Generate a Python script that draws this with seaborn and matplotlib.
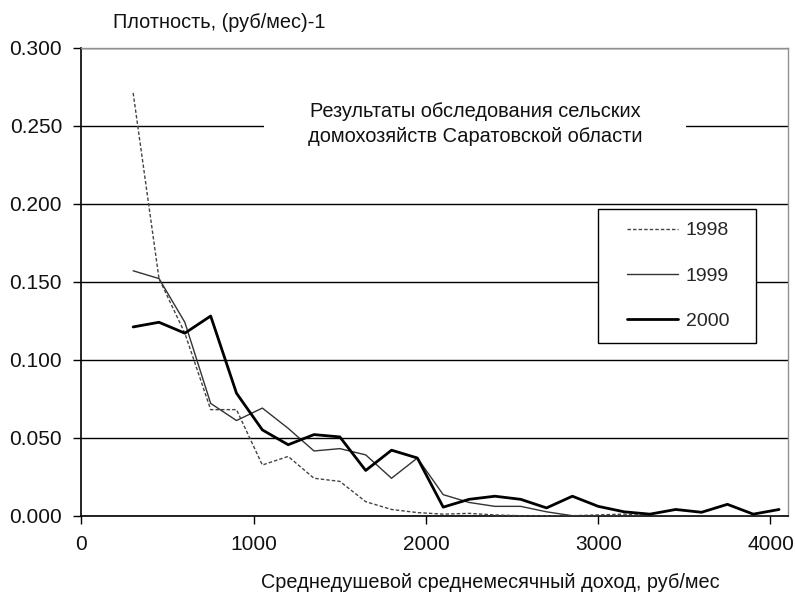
import numpy as np
import pandas as pd
import matplotlib
matplotlib.use("Agg")
import matplotlib.pyplot as plt
from matplotlib.patches import Rectangle
import seaborn as sns

# ── data ───────────────────────────────────────────────────────────────────────
income = [300, 450, 600, 750, 900, 1050, 1200, 1350, 1500, 1650, 1800, 1950, 2100,
          2250, 2400, 2550, 2700, 2850, 3000, 3150, 3300, 3450, 3600, 3750, 3900, 4050]

dens_1998 = [0.271, 0.152, 0.117, 0.068, 0.068, 0.0325, 0.038, 0.024, 0.022, 0.009,
             0.004, 0.002, 0.001, 0.0015, 0.0005, 0.0, 0.0, 0.0, 0.0005, 0.001,
             0.0, 0.0, 0.0, 0.0, 0.0, 0.0]
dens_1999 = [0.157, 0.152, 0.124, 0.072, 0.061, 0.069, 0.056, 0.0415, 0.043, 0.039,
             0.024, 0.037, 0.0135, 0.0085, 0.006, 0.006, 0.0025, 0.0, 0.0, 0.0,
             0.0, 0.0, 0.0, 0.0, 0.0, 0.0]
dens_2000 = [0.121, 0.124, 0.117, 0.128, 0.0785, 0.055, 0.0455, 0.052, 0.0505, 0.029,
             0.042, 0.037, 0.0055, 0.0105, 0.0125, 0.0105, 0.005, 0.0125, 0.006, 0.0025,
             0.001, 0.004, 0.0022, 0.0073, 0.001, 0.004]

years = ["1998", "1999", "2000"]
y_ticks = [0.0, 0.05, 0.10, 0.15, 0.20, 0.25, 0.30]
x_ticks = [0, 1000, 2000, 3000, 4000]

df = pd.DataFrame({
    "income": income * 3,
    "density": dens_1998 + dens_1999 + dens_2000,
    "year": [y for y in years for _ in income],
})

# ── style ──────────────────────────────────────────────────────────────────────
sns.set_theme(style="white")
plt.rcParams["font.family"] = ["Liberation Sans", "DejaVu Sans"]

fig = plt.figure(figsize=(7.95, 5.94), dpi=100)
ax = fig.add_axes([0.1025, 0.1318, 0.8883, 0.7879])

palette = {"1998": "#444444", "1999": "#333333", "2000": "#000000"}
sizes = {"1998": 1.0, "1999": 1.0, "2000": 2.0}
dashes = {"1998": (2.5, 1.5), "1999": "", "2000": ""}

sns.lineplot(data=df, x="income", y="density", hue="year", size="year", style="year",
             palette=palette, sizes=sizes, dashes=dashes, hue_order=years,
             legend=False, ax=ax, zorder=3)

ax.set_xlim(0, 4100)
ax.set_ylim(0, 0.30)
ax.set_xticks(x_ticks)
ax.set_yticks(y_ticks)
ax.set_yticklabels([f"{v:.3f}" for v in y_ticks])
ax.set_xlabel("")
ax.set_ylabel("")
ax.yaxis.grid(True, color="black", linewidth=1.0)
ax.set_axisbelow(True)

for s in ["left", "bottom"]:
    ax.spines[s].set_color("black")
    ax.spines[s].set_linewidth(1.2)
for s in ["top", "right"]:
    ax.spines[s].set_color("#909090")
    ax.spines[s].set_linewidth(1.0)

ax.tick_params(axis="both", which="major", direction="out", length=6, width=1.0,
               color="black", labelsize=15, labelcolor="#111111",
               left=True, bottom=True)
ax.tick_params(axis="y", pad=8)
ax.tick_params(axis="x", pad=8)

# annotation covering part of the 0.250 grid line
ax.text(0.557, 0.837, "Результаты обследования сельских\nдомохозяйств Саратовской области",
        transform=ax.transAxes, ha="center", va="center", fontsize=14.4,
        linespacing=1.4, color="#111111", zorder=4,
        bbox=dict(boxstyle="square,pad=2.2", facecolor="white", edgecolor="none"))

# legend: white box drawn separately so the side padding can differ from the top
ax.add_patch(Rectangle((0.731, 0.369), 0.224, 0.286, transform=ax.transAxes,
                       facecolor="white", edgecolor="black", linewidth=1.0, zorder=4.5))
handles = ax.get_lines()[:3]
leg = ax.legend(handles, years, loc="upper left", bbox_to_anchor=(0.773, 0.628),
                borderaxespad=0, frameon=False, fontsize=14,
                handlelength=2.6, handletextpad=0.4, labelspacing=1.42,
                borderpad=0)
leg.set_zorder(5)

fig.text(113 / 795, 1 - 22 / 594, "Плотность, (руб/мес)-1", ha="left", va="center",
         fontsize=14.3, color="#111111")
fig.text(490 / 795, 1 - 582 / 594, "Среднедушевой среднемесячный доход, руб/мес",
         ha="center", va="center", fontsize=14.3, color="#111111")

fig.savefig("out.png", dpi=100)
